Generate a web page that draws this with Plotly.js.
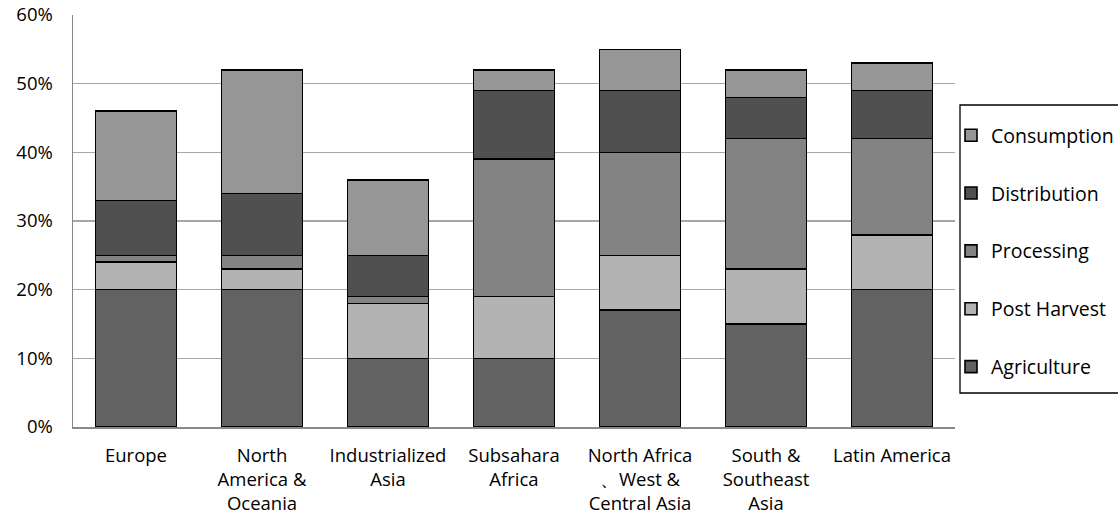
<!DOCTYPE html>
<html>
<head>
<meta charset="utf-8">
<script src="https://cdn.plot.ly/plotly-3.0.1.min.js"></script>
<style>
  html, body { margin: 0; padding: 0; background: #fff; }
  #chart { width: 1118px; height: 519px; }
</style>
</head>
<body>
<div id="chart"></div>
<script>
// Regions along the x axis
const regions = [
  'Europe',
  'North<br>America &<br>Oceania',
  'Industrialized<br>Asia',
  'Subsahara<br>Africa',
  'North Africa<br>、West &<br>Central Asia',
  'South &<br>Southeast<br>Asia',
  'Latin America'
];

// Share of food lost at each stage of the supply chain
const agriculture  = [0.20, 0.20, 0.10, 0.10, 0.17, 0.15, 0.20];
const postHarvest  = [0.04, 0.03, 0.08, 0.09, 0.08, 0.08, 0.08];
const processing   = [0.01, 0.02, 0.01, 0.20, 0.15, 0.19, 0.14];
const distribution = [0.08, 0.09, 0.06, 0.10, 0.09, 0.06, 0.07];
const consumption  = [0.13, 0.18, 0.11, 0.03, 0.06, 0.04, 0.04];

// Stacked bottom-up; the legend lists them top-down (Consumption first)
const stages = [
  { name: 'Agriculture',  y: agriculture,  color: '#626262', rank: 5 },
  { name: 'Post Harvest', y: postHarvest,  color: '#b3b3b3', rank: 4 },
  { name: 'Processing',   y: processing,   color: '#838383', rank: 3 },
  { name: 'Distribution', y: distribution, color: '#505050', rank: 2 },
  { name: 'Consumption',  y: consumption,  color: '#969696', rank: 1 }
];

const FONT = 'Open Sans, Noto Sans, sans-serif';

const traces = stages.map(s => ({
  type: 'bar',
  name: s.name,
  legendgroup: s.name,
  legendrank: s.rank,
  x: regions,
  y: s.y,
  marker: { color: s.color, line: { color: '#000', width: 1.6 } },
  hoverinfo: 'skip'
}));

const W = 1118, H = 519;
const L = 73, R = 955, T = 15, B = 427;
const px = v => (v - L) / (R - L);
const py = v => (B - v) / (B - T);

const layout = {
  width: W,
  height: H,
  margin: { l: L, r: W - R, t: T, b: H - B, pad: 0, autoexpand: false },
  paper_bgcolor: '#fff',
  plot_bgcolor: '#fff',
  barmode: 'stack',
  bargap: 0.36,
  font: { family: FONT, size: 18, color: '#000' },
  xaxis: {
    type: 'category',
    showline: true,
    linecolor: '#888',
    linewidth: 1.5,
    ticks: '',
    showgrid: false,
    tickfont: { family: FONT, size: 18.5, color: '#000' },
    ticklabelstandoff: 11,
    fixedrange: true
  },
  yaxis: {
    range: [0, 0.6],
    dtick: 0.1,
    tickformat: '.0%',
    showline: true,
    linecolor: '#888',
    linewidth: 1.5,
    showgrid: true,
    gridcolor: '#a6a6a6',
    gridwidth: 1.5,
    zeroline: false,
    ticks: '',
    tickfont: { family: FONT, size: 18.5, color: '#000' },
    ticklabelstandoff: 15,
    fixedrange: true
  },
  showlegend: true,
  legend: {
    x: px(951),
    xanchor: 'left',
    y: py(116),
    yanchor: 'top',
    traceorder: 'grouped',
    tracegroupgap: 29.5,
    bgcolor: 'rgba(0,0,0,0)',
    borderwidth: 0,
    font: { family: FONT, size: 19.5, color: '#000' },
    itemclick: false,
    itemdoubleclick: false
  },
  shapes: [
    {
      type: 'rect', xref: 'paper', yref: 'paper',
      x0: px(960), x1: px(1140), y0: py(393), y1: py(105),
      line: { color: '#000', width: 1.3 }, fillcolor: 'rgba(0,0,0,0)'
    }
  ]
};

Plotly.newPlot('chart', traces, layout, { displayModeBar: false, staticPlot: true });
</script>
</body>
</html>
